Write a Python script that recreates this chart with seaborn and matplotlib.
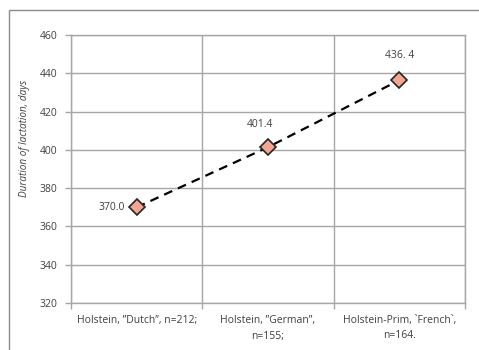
import matplotlib
matplotlib.use("Agg")
import matplotlib.pyplot as plt
from matplotlib.patches import Rectangle
from matplotlib.ticker import FixedLocator, MultipleLocator
import seaborn as sns
import pandas as pd

# Breed groups and mean lactation length (days)
categories = ["Holstein, \u201dDutch\u201d, n=212;",
              "Holstein, \u201dGerman\u201d,\nn=155;",
              "Holstein-Prim, `French`,\nn=164."]
durations = [370.0, 401.4, 436.4]
value_labels = ["370.0", "401.4", "436. 4"]

sns.set_theme(style="white")
plt.rcParams["font.family"] = ["Open Sans", "DejaVu Sans"]

grid_col = "#a6a6a6"
text_col = "#404040"

fig = plt.figure(figsize=(4.79, 3.5), dpi=100)
ax = fig.add_axes([71 / 479, 1 - 303 / 350, (465 - 71) / 479, (303 - 35) / 350])

df = pd.DataFrame({"group": categories, "days": durations})
sns.lineplot(data=df, x="group", y="days", sort=False, ax=ax,
             color="black", linestyle=(0, (4, 2.8)), linewidth=1.6,
             marker="D", markersize=8, markerfacecolor="#f4a594",
             markeredgecolor="#262626", markeredgewidth=1.2)

ax.set_xlim(-0.5, 2.5)
ax.set_ylim(320, 460)
ax.yaxis.set_major_locator(MultipleLocator(20))
ax.xaxis.set_minor_locator(FixedLocator([-0.5, 0.5, 1.5, 2.5]))

ax.grid(False)
ax.grid(True, axis="y", which="major", color=grid_col, linewidth=1.0)
ax.grid(True, axis="x", which="minor", color=grid_col, linewidth=1.0)
ax.set_axisbelow(True)
for s in ax.spines.values():
    s.set_color(grid_col)
    s.set_linewidth(1.0)

ax.tick_params(axis="y", which="major", left=True, length=4, width=1,
               color=grid_col, labelsize=7.5, labelcolor=text_col, pad=6)
ax.tick_params(axis="x", which="major", bottom=False, labelsize=7.5,
               labelcolor=text_col, pad=3)
ax.tick_params(axis="x", which="minor", bottom=True, length=4, width=1,
               color=grid_col)
for lbl in ax.get_xticklabels():
    lbl.set_horizontalalignment("center")
    lbl.set_linespacing(1.5)

ax.set_xlabel("")
ax.set_ylabel("Duration of lactation, days", fontsize=7.2, style="italic",
              color=text_col)
ax.yaxis.set_label_coords(-41 / 394, 0.616)

# value labels beside each point
offsets = [(-12, 0, "right", "center"), (-8, 17, "center", "bottom"),
           (0, 19, "center", "bottom")]
for i, (val, txt) in enumerate(zip(durations, value_labels)):
    dx, dy, ha, va = offsets[i]
    ax.annotate(txt, (i, val), xytext=(dx * 0.72, dy * 0.72),
                textcoords="offset points", ha=ha, va=va,
                fontsize=7.5, color=text_col)

# chart area frame
fig.patches.append(Rectangle((9 / 479, -0.1), 1.2, 1 - 10 / 350 + 0.1,
                             transform=fig.transFigure, fill=False,
                             edgecolor="#8c8c8c", linewidth=1.0))

fig.savefig("out.png", dpi=100)
